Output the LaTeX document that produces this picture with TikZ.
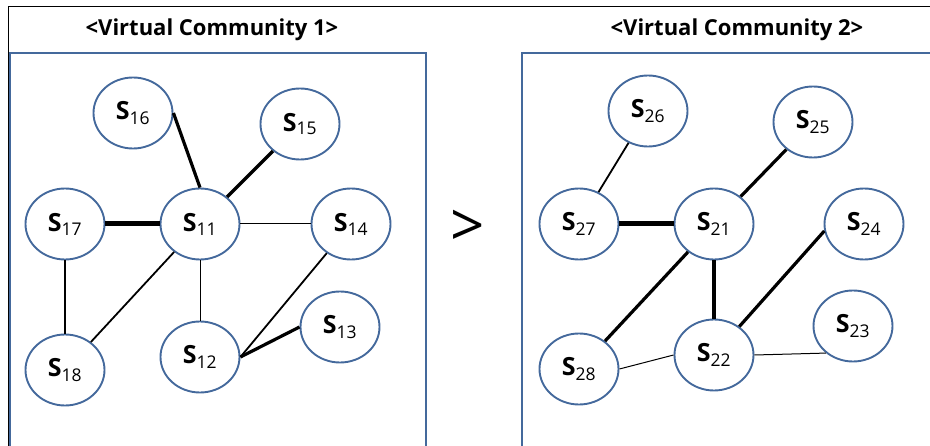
\documentclass[tikz,border=0pt]{standalone}
\usepackage{fontspec}
\setmainfont{Open Sans}
\usetikzlibrary{shapes.geometric}
\definecolor{boxblue}{HTML}{44699C}
\newcommand{\sname}[1]{{\bfseries S}\textsubscript{#1}}
\begin{document}
\begin{tikzpicture}[x=1pt, y=-1pt, main/.style = {draw=boxblue, line width=1.9pt, ellipse, inner sep=0pt, minimum width=79pt, minimum height=71pt, font=\fontsize{25}{27}\selectfont},
		head/.style={font=\bfseries\fontsize{22}{24}\selectfont},
		faint/.style={line width=1pt}, plain/.style={line width=1.8pt},
		bold/.style={line width=3.2pt}, heavy/.style={line width=5pt}]
		\useasboundingbox (0,0) rectangle (930,446);
		
		% frames
		\draw[line width=1.5pt] (930,6.5) -- (8.5,6.5) -- (8.5,446);
		\draw[boxblue, line width=2.2pt] (10,446) -- (10,53) -- (426,53) -- (426,446);
		\draw[boxblue, line width=2.2pt] (522,446) -- (522,53) -- (930,53);
		
		\node[head] (t1) at (212,30) {<Virtual Community 1>};
		\node[head] (t2) at (737,30) {<Virtual Community 2>};
		\node[font=\fontsize{60}{64}\selectfont] (gt) at (468,228) {>};
		
		% community 1
		\node[main] (s16) at (133,113) {\sname{16}};
		\node[main] (s15) at (300,124) {\sname{15}};
		\node[main] (s17) at (65,224) {\sname{17}};
		\node[main] (s11) at (200,224) {\sname{11}};
		\node[main] (s14) at (351,224) {\sname{14}};
		\node[main] (s18) at (65,370) {\sname{18}};
		\node[main] (s12) at (200,357) {\sname{12}};
		\node[main] (s13) at (340,327) {\sname{13}};
		
		% community 2
		\node[main] (s26) at (648,111) {\sname{26}};
		\node[main] (s25) at (813,122) {\sname{25}};
		\node[main] (s27) at (579,224) {\sname{27}};
		\node[main] (s21) at (714,224) {\sname{21}};
		\node[main] (s24) at (864,224) {\sname{24}};
		\node[main] (s28) at (579,369) {\sname{28}};
		\node[main] (s22) at (714,355) {\sname{22}};
		\node[main] (s23) at (853,326) {\sname{23}};
		
		\draw[bold] (s16.east) to (s11.north);
		\draw[bold] (s15) to (s11);
		\draw[heavy] (s17) to (s11);
		\draw[faint] (s11) to (s14);
		\draw[plain] (s17) to (s18);
		\draw[plain] (s11) to (s18);
		\draw[faint] (s11) to (s12);
		\draw[plain] (s14) to (s12.east);
		\draw[bold] (s13.west) to (s12.east);
		
		\draw[plain] (s26) to (s27);
		\draw[bold] (s25) to (s21);
		\draw[heavy] (s27) to (s21);
		\draw[bold] (s21) to (s28);
		\draw[bold] (s21) to (s22);
		\draw[bold] (s24.190) to (s22);
		\draw[faint] (s28.east) to (s22.west);
		\draw[faint] (s22.east) to (s23.225);
		
	\end{tikzpicture}
\end{document}
